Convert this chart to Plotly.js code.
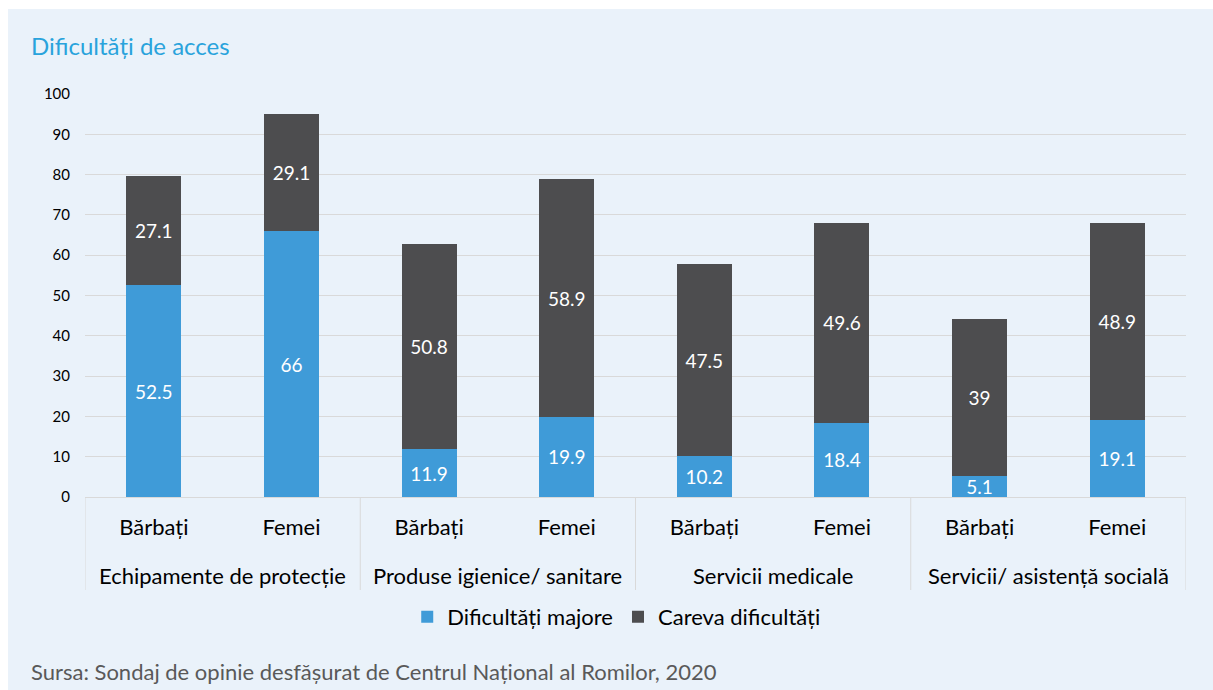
<!DOCTYPE html>
<html>
<head>
<meta charset="utf-8">
<script src="https://cdn.plot.ly/plotly-3.0.1.min.js"></script>
<style>
  html, body { margin: 0; padding: 0; background: #ffffff; width: 1213px; height: 690px; overflow: hidden; }
  #chart { position: absolute; left: 8px; top: 9px; width: 1205px; height: 681px; }
</style>
</head>
<body>
<div id="chart"></div>
<script>
const groups = ["Echipamente de protecție", "Produse igienice/ sanitare",
                "Servicii medicale", "Servicii/ asistență socială"];
const subgroups = ["Bărbați", "Femei", "Bărbați", "Femei", "Bărbați", "Femei", "Bărbați", "Femei"];
const majore = [52.5, 66, 11.9, 19.9, 10.2, 18.4, 5.1, 19.1];
const careva = [27.1, 29.1, 50.8, 58.9, 47.5, 49.6, 39, 48.9];
const seriesNames = ["Dificultăți majore", "Careva dificultăți"];
const yTicks = [0, 10, 20, 30, 40, 50, 60, 70, 80, 90, 100];

const FONT = "Lato, 'Open Sans', sans-serif";
const PLOT_H = 403;
const xIdx = subgroups.map((_, i) => i);
const perGroup = subgroups.length / groups.length;

const common = {
  type: "bar",
  x: xIdx,
  textposition: "inside",
  insidetextanchor: "middle",
  textangle: 0,
  constraintext: "none",
  textfont: { family: FONT, size: 19, color: "#ffffff" },
  hoverinfo: "skip"
};

const traces = [
  Object.assign({}, common, {
    name: seriesNames[0], y: majore, text: majore.map(String),
    marker: { color: "#3F9BD8", line: { width: 0 } }
  }),
  Object.assign({}, common, {
    name: seriesNames[1], y: careva, text: careva.map(String),
    marker: { color: "#4D4D4F", line: { width: 0 } }
  })
];

// group labels and dividers (axis structure)
const annotations = groups.map((g, gi) => ({
  text: g, xref: "x", yref: "paper",
  x: gi * perGroup + (perGroup - 1) / 2, xanchor: "center",
  y: -78 / PLOT_H, yanchor: "middle",
  showarrow: false, font: { family: FONT, size: 22, color: "#000000" }
}));
const shapes = [];
for (let gi = 0; gi <= groups.length; gi++) {
  shapes.push({
    type: "line", xref: "x", yref: "paper",
    x0: gi * perGroup - 0.5, x1: gi * perGroup - 0.5,
    y0: 0, y1: -93 / PLOT_H,
    line: { color: "#D9D9D9", width: 1 }
  });
}

annotations.push(
  { text: "Dificultăți de acces", xref: "paper", yref: "paper",
    x: -56 / 1101, xanchor: "left", y: 1 + 49 / PLOT_H, yanchor: "middle",
    showarrow: false, font: { family: FONT, size: 24, color: "#29A3DC" } },
  { text: "Sursa: Sondaj de opinie desfășurat de Centrul Național al Romilor, 2020",
    xref: "paper", yref: "paper",
    x: -56 / 1101, xanchor: "left", y: -174 / PLOT_H, yanchor: "middle",
    showarrow: false, font: { family: FONT, size: 22, color: "#595959" } }
);

const layout = {
  width: 1205, height: 681,
  paper_bgcolor: "#EAF2FA",
  plot_bgcolor: "#EAF2FA",
  margin: { l: 77, r: 27, t: 85, b: 193 },
  barmode: "stack",
  bargap: 0.6,
  font: { family: FONT, color: "#000000" },
  showlegend: true,
  legend: {
    orientation: "h", x: 0.4825, xanchor: "center", xref: "paper",
    y: -120 / PLOT_H, yref: "paper", yanchor: "middle",
    font: { family: FONT, size: 22, color: "#000000" },
    traceorder: "normal", itemwidth: 30
  },
  xaxis: {
    type: "linear", range: [-0.5, subgroups.length - 0.5],
    tickvals: xIdx, ticktext: subgroups,
    tickfont: { family: FONT, size: 22, color: "#000000" },
    ticklabelstandoff: 11,
    showline: true, linecolor: "#D9D9D9", linewidth: 1,
    ticks: "", showgrid: false, zeroline: false
  },
  yaxis: {
    range: [0, 100], tickvals: yTicks, ticktext: yTicks.map(String),
    showgrid: true, gridcolor: "#D9D9D9", gridwidth: 1,
    zeroline: false, showline: false, ticks: "",
    tickfont: { family: FONT, size: 15, color: "#000000" },
    ticklabelstandoff: 14
  },
  annotations: annotations,
  shapes: shapes
};

Plotly.newPlot("chart", traces, layout, { displayModeBar: false, staticPlot: true });
</script>
</body>
</html>
